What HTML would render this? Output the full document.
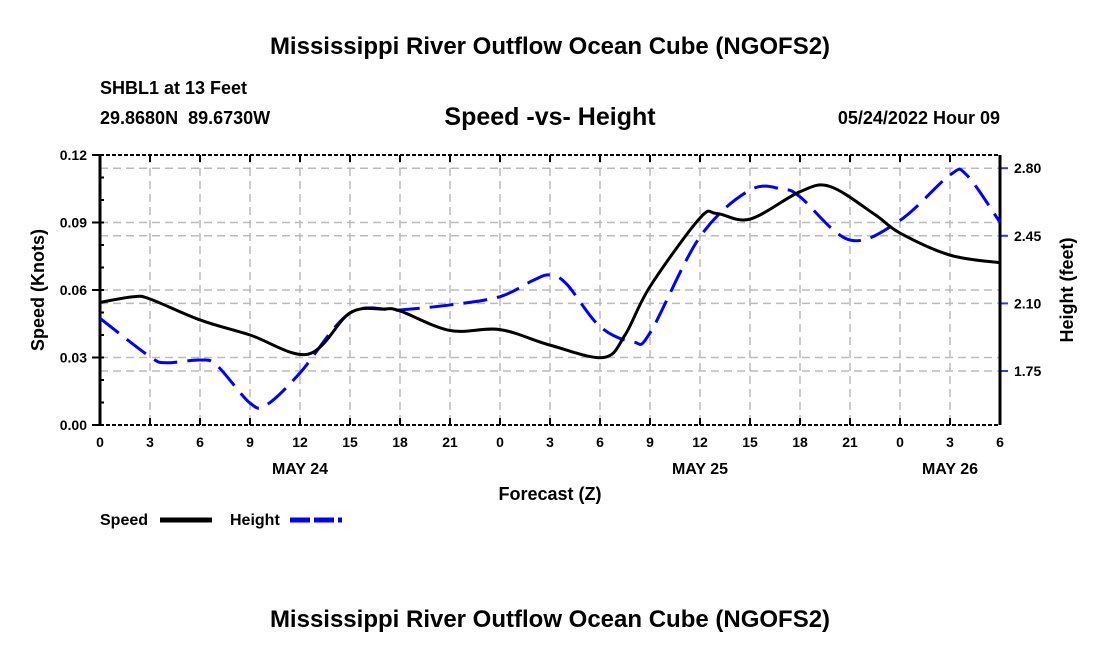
<!DOCTYPE html>
<html><head><meta charset="utf-8"><style>
body{margin:0;background:#fff;font-family:"Liberation Sans",Arial,sans-serif}
svg text{font-family:"Liberation Sans",Arial,sans-serif;font-weight:bold;white-space:pre}
</style></head><body>
<svg id="c" width="1100" height="650">
<text x="550" y="54" text-anchor="middle" font-size="24">Mississippi River Outflow Ocean Cube (NGOFS2)</text>
<text x="100" y="94" font-size="18">SHBL1 at 13 Feet</text>
<text x="100" y="124" font-size="18" xml:space="preserve">29.8680N  89.6730W</text>
<text x="550" y="125" text-anchor="middle" font-size="25">Speed -vs- Height</text>
<text x="1000" y="124" text-anchor="end" font-size="18">05/24/2022 Hour 09</text>
<text x="550" y="627" text-anchor="middle" font-size="24">Mississippi River Outflow Ocean Cube (NGOFS2)</text>
<g id="grid"></g><g id="axes"></g><g id="series"></g>
<text x="550" y="500" text-anchor="middle" font-size="18">Forecast (Z)</text>
<text transform="translate(44,290) rotate(-90)" text-anchor="middle" font-size="18">Speed (Knots)</text>
<text transform="translate(1073,290) rotate(-90)" text-anchor="middle" font-size="18">Height (feet)</text>
<g><text x="100" y="525" font-size="16">Speed</text><line x1="160" y1="520" x2="212" y2="520" stroke="#000" stroke-width="5"/></g>
<g><text x="230" y="525" font-size="16">Height</text><line x1="290" y1="520" x2="342" y2="520" stroke="#00f" stroke-width="5" stroke-dasharray="20,4"/></g>
</svg>
<script>
const speedHours=[0,2,3,6,9,12.5,15,17,18,21,24,27,30.2,31.5,33,36,37,39,42,43.8,46.5,48,51,54];
const speedValues=[0.0545,0.057,0.056,0.0467,0.040,0.0315,0.0498,0.0515,0.0507,0.042,0.0424,0.0355,0.0300,0.040,0.0615,0.092,0.094,0.0915,0.1037,0.106,0.0935,0.0853,0.0755,0.0721];
const heightHours=[0,3,4,6,7,9,10,12,15,18,21,24,26,27,28,30,32,33,36,39,41,42,45,48,51,52,54];
const heightValues=[2.023,1.824,1.793,1.807,1.78,1.584,1.575,1.74,2.05,2.066,2.092,2.135,2.22,2.247,2.2,1.98,1.90,1.947,2.445,2.687,2.69,2.652,2.428,2.53,2.765,2.765,2.52];
const xTickLabels=["0","3","6","9","12","15","18","21","0","3","6","9","12","15","18","21","0","3","6"];
const dayLabels=[["MAY 24",12],["MAY 25",36],["MAY 26",51]];
const speedTicks=[0,0.03,0.06,0.09,0.12];
const heightTicks=[1.75,2.10,2.45,2.80];
const L=100,R=1000,T=155,B=425;
const X=h=>L+(R-L)*h/54;
const YS=v=>B-(B-T)*v/0.12;
const YH=v=>371-(v-1.75)/0.35*67.6;
const NS="http://www.w3.org/2000/svg";
function mk(p,tag,a){const e=document.createElementNS(NS,tag);for(const k in a)e.setAttribute(k,a[k]);p.appendChild(e);return e;}
const grid=document.getElementById('grid'),axes=document.getElementById('axes'),ser=document.getElementById('series');
const gs={stroke:"#bbb","stroke-width":1.5,"stroke-dasharray":"8,5"};
xTickLabels.forEach((t,i)=>{const x=X(i*3);
 if(i>0&&i<18){const g=mk(grid,'line',Object.assign({x1:x,x2:x,y1:T,y2:B},gs));}
 mk(axes,'line',{x1:x,x2:x,y1:B,y2:B-7,stroke:"#000","stroke-width":2});
 mk(axes,'line',{x1:x,x2:x,y1:T,y2:T+7,stroke:"#000","stroke-width":2});
 const tx=mk(axes,'text',{x:x,y:B+22,"text-anchor":"middle","font-size":14});tx.textContent=t;
 });
dayLabels.forEach(d=>{const tx=mk(axes,'text',{x:X(d[1]),y:B+49,"text-anchor":"middle","font-size":16});tx.textContent=d[0];
 });
speedTicks.forEach(v=>{const y=YS(v);
 if(v>0&&v<0.12){const g=mk(grid,'line',Object.assign({x1:L,x2:R,y1:y,y2:y},gs));}
 mk(axes,'line',{x1:L-8,x2:L,y1:y,y2:y,stroke:"#000","stroke-width":2});
 const tx=mk(axes,'text',{x:L-13,y:y+5,"text-anchor":"end","font-size":14});tx.textContent=v.toFixed(2);
 });
for(let v=0.01;v<0.12;v+=0.01){mk(axes,'line',{x1:L,x2:L+4,y1:YS(v),y2:YS(v),stroke:"#000","stroke-width":2});}
heightTicks.forEach(v=>{const y=YH(v);
 const g=mk(grid,'line',Object.assign({x1:L,x2:R,y1:y,y2:y},gs));
 mk(axes,'line',{x1:R,x2:R+8,y1:y,y2:y,stroke:"#33f","stroke-width":2});
 const tx=mk(axes,'text',{x:R+14,y:y+5,"font-size":14});tx.textContent=v.toFixed(2);
 });
mk(axes,'line',{x1:L,x2:L,y1:T,y2:B,stroke:"#000","stroke-width":3});
mk(axes,'line',{x1:R,x2:R,y1:T,y2:B,stroke:"#000","stroke-width":3});
mk(axes,'line',{x1:L,x2:R,y1:T,y2:T,stroke:"#000","stroke-width":2,"stroke-dasharray":"4,2"});
mk(axes,'line',{x1:L,x2:R,y1:B,y2:B,stroke:"#000","stroke-width":2,"stroke-dasharray":"4,2"});
function path(xs,ys){const p=xs.map((h,i)=>[X(h),ys[i]]);let d=`M${p[0][0]},${p[0][1]}`;
 for(let i=0;i<p.length-1;i++){const p0=p[Math.max(0,i-1)],p1=p[i],p2=p[i+1],p3=p[Math.min(p.length-1,i+2)];
  const c1=[p1[0]+(p2[0]-p0[0])/6,p1[1]+(p2[1]-p0[1])/6],c2=[p2[0]-(p3[0]-p1[0])/6,p2[1]-(p3[1]-p1[1])/6];
  d+=` C${c1[0]},${c1[1]} ${c2[0]},${c2[1]} ${p2[0]},${p2[1]}`;}return d;}
const hp=mk(ser,'path',{d:path(heightHours,heightValues.map(YH)),fill:"none",stroke:"#00f","stroke-width":3,"stroke-dasharray":"24,10"});

const sp=mk(ser,'path',{d:path(speedHours,speedValues.map(YS)),fill:"none",stroke:"#000","stroke-width":3});

</script>
</body></html>
